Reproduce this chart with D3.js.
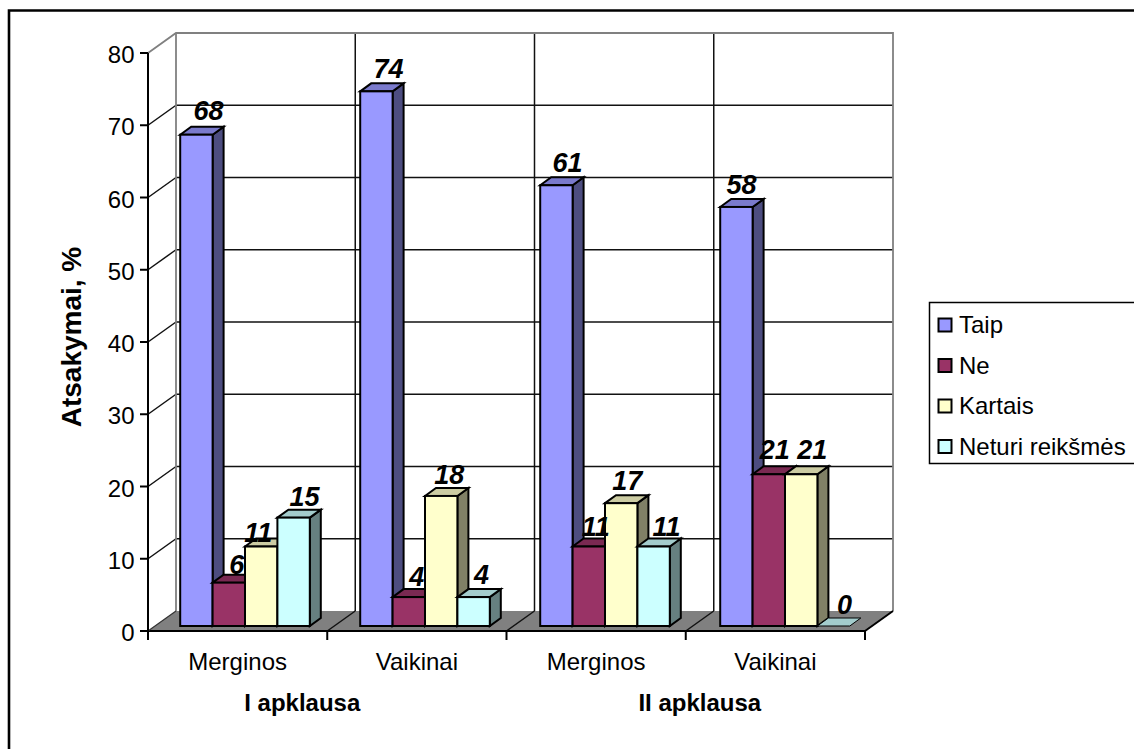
<!DOCTYPE html>
<html>
<head>
<meta charset="utf-8">
<script src="https://cdn.jsdelivr.net/npm/d3@7/dist/d3.min.js"></script>
<style>
html,body{margin:0;padding:0;background:#fff}
svg{display:block}
text{font-family:"Liberation Sans",Arial,sans-serif;fill:#000}
</style>
</head>
<body>
<svg id="chart" width="1134" height="749"></svg>
<script>
// Survey responses per group, one array per answer.
const groups = ["Merginos", "Vaikinai", "Merginos", "Vaikinai"];
const surveys = ["I apklausa", "II apklausa"];
const seriesNames = ["Taip", "Ne", "Kartais", "Neturi reikšmės"];
const taip = [68, 74, 61, 58];
const ne = [6, 4, 11, 21];
const kartais = [11, 18, 17, 21];
const neturi = [15, 4, 11, 0];
const yTicks = [0, 10, 20, 30, 40, 50, 60, 70, 80];
const faceColors = ["#9999FF", "#993366", "#FFFFCC", "#CCFFFF"];
const topColors = ["#7A7ACC", "#7A2952", "#CCCCA3", "#A3CCCC"];
const sideColors = ["#4D4D80", "#4D1A33", "#808066", "#668080"];

const svg = d3.select("#chart");
const seriesValues = [taip, ne, kartais, neturi];

// Oblique projection: front plane of the floor, and offset to the back wall.
const depth = {dx: 28, dy: -20};
const barInset = {dx: 7, dy: -5};
const barDepth = {dx: 11, dy: -8};

const y = d3.scaleLinear().domain([0, 80]).range([631, 53]);
const xEdge = d3.scaleLinear().domain([0, 4]).range([148, 865]);
const xGroup = d3.scaleBand().domain(d3.range(4)).range([155, 875]).paddingInner(0).paddingOuter(0);
const barW = 32.4;
const groupPad = (xGroup.bandwidth() - barW * 4) / 2;

// Hand placement of the value labels, per series and group, so they clear the neighbouring bars.
const labelShiftX = [[12, 12, 11, 5], [8, 8, 7, 6], [-3, 8, 6, 11], [11, 8, 13, 11]];
const labelShiftY = [[-7, -5, -5, -5], [-1, -3, -3, -7], [3, -4, -5, -7], [-4, -5, -3, -4]];

const poly = pts => pts.map(p => p.join(",")).join(" ");

// Page frame: only the top and left rules fall inside the page
svg.append("path").attr("d", "M9,749V10.5H1134")
  .attr("fill", "none").attr("stroke", "#000").attr("stroke-width", 2.6);

const x0 = xEdge(0), x4 = xEdge(4), y0 = y(0), yTop = y(80);

// Floor
svg.append("polygon")
  .attr("points", poly([[x0, y0], [x0 + depth.dx, y0 + depth.dy], [x4 + depth.dx, y0 + depth.dy], [x4, y0]]))
  .attr("fill", "#808080");

// Walls: horizontal and vertical gridlines
const grid = svg.append("g").attr("stroke", "#111").attr("stroke-width", 1.5).attr("fill", "none");
yTicks.slice(1, -1).forEach(t => {
  grid.append("line").attr("x1", x0 + depth.dx).attr("x2", x4 + depth.dx)
    .attr("y1", y(t) + depth.dy).attr("y2", y(t) + depth.dy);
  grid.append("line").attr("x1", x0).attr("x2", x0 + depth.dx)
    .attr("y1", y(t)).attr("y2", y(t) + depth.dy);
});
d3.range(1, 4).forEach(i => {
  grid.append("line").attr("x1", xEdge(i) + depth.dx).attr("x2", xEdge(i) + depth.dx)
    .attr("y1", yTop + depth.dy).attr("y2", y0 + depth.dy);
  grid.append("line").attr("x1", xEdge(i)).attr("x2", xEdge(i) + depth.dx)
    .attr("y1", y0).attr("y2", y0 + depth.dy);
});

// Wall outline
svg.append("path")
  .attr("d", `M${x0},${yTop}L${x0 + depth.dx},${yTop + depth.dy}L${x4 + depth.dx},${yTop + depth.dy}L${x4 + depth.dx},${y0 + depth.dy}`)
  .attr("fill", "none").attr("stroke", "#808080").attr("stroke-width", 1.8);
svg.append("line").attr("x1", x0 + depth.dx).attr("x2", x0 + depth.dx)
  .attr("y1", yTop + depth.dy).attr("y2", y0 + depth.dy)
  .attr("stroke", "#808080").attr("stroke-width", 1.8);

// Front edges of the floor and axes
const axes = svg.append("g").attr("stroke", "#000").attr("stroke-width", 2).attr("fill", "none");
axes.append("line").attr("x1", x0).attr("x2", x4).attr("y1", y0).attr("y2", y0);
axes.append("line").attr("x1", x4).attr("x2", x4 + depth.dx).attr("y1", y0).attr("y2", y0 + depth.dy);
axes.append("line").attr("x1", x0).attr("x2", x0 + depth.dx).attr("y1", y0).attr("y2", y0 + depth.dy).attr("stroke", "#333").attr("stroke-width", 1.2);
axes.append("line").attr("x1", x0).attr("x2", x0).attr("y1", yTop).attr("y2", y0);
yTicks.forEach(t => axes.append("line").attr("x1", x0 - 8).attr("x2", x0).attr("y1", y(t)).attr("y2", y(t)));
d3.range(5).forEach(i => axes.append("line").attr("x1", xEdge(i)).attr("x2", xEdge(i)).attr("y1", y0).attr("y2", y0 + 9));

// Bars, group by group from left to right
const bars = svg.append("g").attr("stroke", "#000").attr("stroke-width", 2).attr("stroke-linejoin", "miter");
const labels = [];
groups.forEach((g, gi) => {
  seriesValues.forEach((vals, si) => {
    const v = vals[gi];
    const left = xGroup(gi) + groupPad + si * barW;
    const right = left + barW;
    const base = y(0) + barInset.dy;
    const top = y(v) + barInset.dy;
    const {dx, dy} = barDepth;
    if (v > 0) {
      bars.append("polygon").attr("points", poly([[right, top], [right + dx, top + dy], [right + dx, base + dy], [right, base]])).attr("fill", sideColors[si]);
      bars.append("polygon").attr("points", poly([[left, top], [left + dx, top + dy], [right + dx, top + dy], [right, top]])).attr("fill", topColors[si]);
      bars.append("rect").attr("x", left).attr("y", top).attr("width", barW).attr("height", base - top).attr("fill", faceColors[si]);
    } else {
      bars.append("polygon").attr("points", poly([[left, top], [left + dx, top + dy], [right + dx, top + dy], [right, top]])).attr("fill", topColors[si]).attr("stroke-width", 1);
    }
    labels.push({v, x: left + barW / 2 + labelShiftX[si][gi], y: top + dy + labelShiftY[si][gi]});
  });
});

// Value labels
svg.append("g").selectAll("text").data(labels).join("text")
  .attr("x", d => d.x).attr("y", d => d.y)
  .attr("text-anchor", "middle")
  .attr("font-size", 27).attr("font-weight", "bold").attr("font-style", "italic")
  .text(d => d.v);

// Y axis labels and title
svg.append("g").selectAll("text").data(yTicks).join("text")
  .attr("x", 134.5).attr("y", d => y(d) + 10)
  .attr("text-anchor", "end").attr("font-size", 24).text(d => d);
svg.append("text").attr("transform", "translate(81,337) rotate(-90)")
  .attr("text-anchor", "middle").attr("font-size", 28).attr("font-weight", "bold").text("Atsakymai, %");

// Category labels under the axis
svg.append("g").selectAll("text").data(groups).join("text")
  .attr("x", (d, i) => xEdge(i) + (xEdge(1) - xEdge(0)) / 2)
  .attr("y", 670).attr("text-anchor", "middle").attr("font-size", 24).text(d => d);
svg.append("g").selectAll("text").data(surveys).join("text")
  .attr("x", (d, i) => xEdge(i * 2 + 1) - 25 + i * 39)
  .attr("y", 711).attr("text-anchor", "middle").attr("font-size", 24).attr("font-weight", "bold").text(d => d);

// Legend, running off the right edge of the page
const legend = svg.append("g");
legend.append("rect").attr("x", 929.5).attr("y", 302.5).attr("width", 220).attr("height", 161)
  .attr("fill", "#fff").attr("stroke", "#000").attr("stroke-width", 1.5);
seriesNames.forEach((name, i) => {
  const ly = 325 + i * 40.5;
  legend.append("rect").attr("x", 938.5).attr("y", ly - 6.5).attr("width", 13).attr("height", 13)
    .attr("fill", faceColors[i]).attr("stroke", "#000").attr("stroke-width", 2);
  legend.append("text").attr("x", 959).attr("y", ly + 8).attr("font-size", 24).text(name);
});
</script>
</body>
</html>
